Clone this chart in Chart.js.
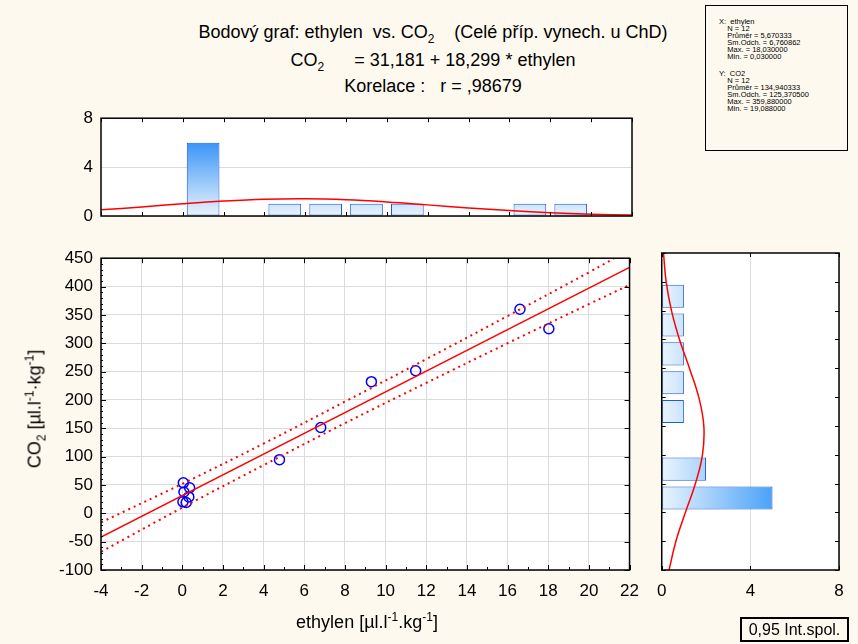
<!DOCTYPE html>
<html>
<head>
<meta charset="utf-8">
<title>Bodový graf: ethylen vs. CO2</title>
<script src="https://cdn.jsdelivr.net/npm/chart.js@4.4.0/dist/chart.umd.min.js"></script>
<style>
  html, body { margin: 0; padding: 0; }
  body {
    width: 858px; height: 644px; position: relative; overflow: hidden;
    background: #fdf9ee; color: #000;
    font-family: "Liberation Sans", Arial, sans-serif;
  }
  canvas { position: absolute; }
  .txt { position: absolute; white-space: pre; font-size: 18px; line-height: 20px; transform: translateX(-50%); }
  .txt sub, .txt sup { font-size: 12px; line-height: 0; }
  #stats {
    position: absolute; left: 705px; top: 5px; width: 143px; height: 146px;
    border: 1px solid #000; box-sizing: border-box;
  }
  .block {
    position: absolute; left: 13px; white-space: pre;
    font-size: 7.5px; line-height: 7px;
  }
  #ytitle {
    position: absolute; left: 35px; top: 409px; white-space: pre; font-size: 18px;
    transform: translate(-50%, -50%) rotate(-90deg);
  }
  #ytitle sub, #ytitle sup { font-size: 12px; line-height: 0; }
  #ciBox {
    position: absolute; left: 740px; top: 617px; width: 109px; height: 25px;
    border: 2px solid #000; box-sizing: border-box;
    font-size: 16px; line-height: 21px; text-align: center;
  }
</style>
</head>
<body>

<div class="txt" style="left:433px; top:22px">Bodový graf: ethylen  vs. CO<sub>2</sub>    (Celé příp. vynech. u ChD)</div>
<div class="txt" style="left:433px; top:50px">CO<sub>2</sub>      = 31,181 + 18,299 * ethylen</div>
<div class="txt" style="left:433px; top:76px">Korelace :   r = ,98679</div>

<div id="stats">
<div class="block" style="top:12px">X:  ethylen
    N = 12
    Průměr = 5,670333
    Sm.Odch. = 6,760862
    Max. = 18,030000
    Min. = 0,030000</div>
<div class="block" style="top:64px">Y:  CO2
    N = 12
    Průměr = 134,940333
    Sm.Odch. = 125,370500
    Max. = 359,880000
    Min. = 19,088000</div>
</div>

<canvas id="topHist" width="650" height="135" style="left:0; top:100px"></canvas>
<canvas id="main" width="650" height="404" style="left:0; top:240px"></canvas>
<canvas id="sideHist" width="212" height="404" style="left:646px; top:240px"></canvas>

<div class="txt" style="left:367px; top:612px">ethylen [µl.l<sup>-1</sup>.kg<sup>-1</sup>]</div>
<div id="ytitle">CO<sub>2</sub> [µl.l<sup>-1</sup>·kg<sup>-1</sup>]</div>
<div id="ciBox">0,95 Int.spol.</div>

<script>
// measured pairs
const ethylen = [0.05, 0.36, 0.08, 0.32, 0.03, 0.19, 4.78, 6.81, 9.30, 11.48, 16.61, 18.03];
const co2     = [53.8, 45.1, 37.6, 28.9, 20.2, 19.088, 94.6, 151.4, 232.2, 251.4, 359.88, 325.6];

// fitted line CO2 = a + b * ethylen
const intercept = 31.181;
const slope = 18.299;

// 0.95 confidence band of the fit
const bandX     = [-4, 0, 4, 8, 12, 16, 20, 22];
const bandUpper = [-16, 52, 123, 197, 272, 348, 425, 465];
const bandLower = [-68, 10, 85, 159, 230, 300, 369, 403];

// ethylen histogram, bins of 2 from -4 to 22
const ethBins   = ['-4–-2', '-2–0', '0–2', '2–4', '4–6', '6–8', '8–10', '10–12', '12–14', '14–16', '16–18', '18–20', '20–22'];
const ethCounts = [0, 0, 6, 0, 1, 1, 1, 1, 0, 0, 1, 1, 0];
// normal curve over the ethylen histogram
const ethCurveX = [-4, -2, 0, 2, 4, 6, 8, 10, 12, 14, 16, 18, 20, 22];
const ethCurveY = [0.51, 0.74, 1.0, 1.22, 1.37, 1.41, 1.33, 1.15, 0.91, 0.66, 0.44, 0.27, 0.15, 0.08];

// CO2 histogram, bins of 50 from -100 to 450 (bottom to top)
const co2Bins   = ['-100–-50', '-50–0', '0–50', '50–100', '100–150', '150–200', '200–250', '250–300', '300–350', '350–400', '400–450'];
const co2Counts = [0, 0, 5, 2, 0, 1, 1, 1, 1, 1, 0];
// normal curve beside the CO2 histogram
const co2CurveY = [-100, -50, 0, 50, 100, 150, 200, 250, 300, 350, 400, 450];
const co2CurveX = [0.33, 0.64, 1.07, 1.52, 1.84, 1.9, 1.67, 1.25, 0.8, 0.44, 0.2, 0.08];

const FONT = { family: '"Liberation Sans", Arial, sans-serif', size: 17 };
const GRID = '#dcdcdc';
const BAR_EDGE = '#1f5bd6';

function range(a, b, s) {
  const out = [];
  for (let v = a; v <= b + 1e-9; v += s) out.push(v);
  return out;
}

// black frame round the plot area plus short tick marks pointing inwards
const edgeTicks = {
  id: 'edgeTicks',
  afterDatasetsDraw(chart, args, opts) {
    const { ctx, chartArea: a } = chart;
    ctx.save();
    ctx.strokeStyle = '#000';
    ctx.lineWidth = 1;
    (opts.marks || []).forEach(m => {
      const sc = chart.scales[m.scale];
      m.values.forEach(v => {
        const p = Math.round(sc.getPixelForValue(v)) + 0.5;
        ctx.beginPath();
        m.sides.forEach(side => {
          if (side === 'bottom') { ctx.moveTo(p, a.bottom); ctx.lineTo(p, a.bottom - m.len); }
          if (side === 'top')    { ctx.moveTo(p, a.top);    ctx.lineTo(p, a.top + m.len); }
          if (side === 'left')   { ctx.moveTo(a.left, p);   ctx.lineTo(a.left + m.len, p); }
          if (side === 'right')  { ctx.moveTo(a.right, p);  ctx.lineTo(a.right - m.len, p); }
        });
        ctx.stroke();
      });
    });
    ctx.lineWidth = 1.5;
    ctx.strokeRect(a.left, a.top, a.right - a.left, a.bottom - a.top);
    ctx.restore();
  }
};

// white plot background
const plotBg = {
  id: 'plotBg',
  beforeDraw(chart) {
    const { ctx, chartArea: a } = chart;
    ctx.save();
    ctx.fillStyle = '#fff';
    ctx.fillRect(a.left, a.top, a.right - a.left, a.bottom - a.top);
    ctx.restore();
  }
};

function fixSize(w, h) {
  return s => { if (w != null) s.width = w; if (h != null) s.height = h; };
}

// ---------- scatter plot with the fit ----------
const points = ethylen.map((x, i) => ({ x, y: co2[i] }));
const fitLine = [-4, 22].map(x => ({ x, y: intercept + slope * x }));
const upper = bandX.map((x, i) => ({ x, y: bandUpper[i] }));
const lower = bandX.map((x, i) => ({ x, y: bandLower[i] }));

const dotted = {
  type: 'line', borderColor: '#ff0000', borderWidth: 2, borderDash: [2, 4],
  pointRadius: 0, tension: 0.4, fill: false
};

new Chart(document.getElementById('main'), {
  type: 'scatter',
  data: {
    datasets: [
      Object.assign({ data: upper }, dotted),
      Object.assign({ data: lower }, dotted),
      { type: 'line', data: fitLine, borderColor: '#ff0000', borderWidth: 1.5, pointRadius: 0, fill: false },
      {
        data: points, pointRadius: 5, pointBorderWidth: 1.5,
        pointBorderColor: '#0000ff', pointBackgroundColor: 'rgba(0,0,0,0)'
      }
    ]
  },
  options: {
    responsive: false, animation: false,
    layout: { padding: { top: 13, right: 18, left: 0, bottom: 0 } },
    plugins: {
      legend: { display: false }, tooltip: { enabled: false },
      edgeTicks: {
        marks: [
          { scale: 'x', values: range(-4, 22, 1), sides: ['bottom'], len: 3 },
          { scale: 'x', values: range(-4, 22, 2), sides: ['bottom', 'top'], len: 5 },
          { scale: 'y', values: range(-100, 450, 10), sides: ['left'], len: 2 },
          { scale: 'y', values: range(-100, 450, 50), sides: ['left', 'right'], len: 5 }
        ]
      }
    },
    scales: {
      x: {
        type: 'linear', min: -4, max: 22, afterFit: fixSize(null, 74),
        ticks: { stepSize: 2, font: FONT, color: '#000', padding: 11, autoSkip: false, maxRotation: 0 },
        grid: { color: GRID, drawTicks: false }, border: { display: false }
      },
      y: {
        type: 'linear', min: -100, max: 450, afterFit: fixSize(101, null),
        ticks: { stepSize: 50, font: FONT, color: '#000', padding: 8, autoSkip: false },
        grid: { color: GRID, drawTicks: false }, border: { display: false }
      }
    }
  },
  plugins: [plotBg, edgeTicks]
});

// ---------- ethylen histogram above ----------
function vertGradient(c) {
  const chart = c.chart;
  if (!chart.chartArea) return '#cfe5fc';
  const ys = chart.scales.y;
  const g = chart.ctx.createLinearGradient(0, ys.getPixelForValue(0), 0, ys.getPixelForValue(6));
  g.addColorStop(0, '#eaf4fe');
  g.addColorStop(1, '#3a95f6');
  return g;
}

new Chart(document.getElementById('topHist'), {
  type: 'bar',
  data: {
    labels: ethBins,
    datasets: [
      {
        type: 'line', xAxisID: 'xc', yAxisID: 'y',
        data: ethCurveX.map((x, i) => ({ x, y: ethCurveY[i] })),
        borderColor: '#ff0000', borderWidth: 1.5, pointRadius: 0, tension: 0.4
      },
      {
        data: ethCounts, xAxisID: 'x', yAxisID: 'y', grouped: false,
        backgroundColor: vertGradient, borderColor: BAR_EDGE, borderWidth: 1,
        borderSkipped: false, barPercentage: 0.8, categoryPercentage: 1
      }
    ]
  },
  options: {
    responsive: false, animation: false,
    layout: { padding: { top: 13, right: 18, left: 0, bottom: 19 } },
    plugins: {
      legend: { display: false }, tooltip: { enabled: false },
      edgeTicks: {
        marks: [{ scale: 'xc', values: range(-4, 22, 2), sides: ['bottom', 'top'], len: 4 }]
      }
    },
    scales: {
      x: { type: 'category', display: false, offset: true },
      xc: { type: 'linear', axis: 'x', display: false, offset: false, min: -4, max: 22 },
      y: {
        min: 0, max: 8, afterFit: fixSize(101, null),
        ticks: { stepSize: 4, font: FONT, color: '#000', padding: 8 },
        grid: { color: GRID, drawTicks: false }, border: { display: false }
      }
    }
  },
  plugins: [plotBg, edgeTicks]
});

// ---------- CO2 histogram on the right ----------
function horizGradient(c) {
  const chart = c.chart;
  if (!chart.chartArea) return '#cfe5fc';
  const xs = chart.scales.x;
  const g = chart.ctx.createLinearGradient(xs.getPixelForValue(0), 0, xs.getPixelForValue(5), 0);
  g.addColorStop(0, '#eaf4fe');
  g.addColorStop(1, '#4aa2f8');
  return g;
}

new Chart(document.getElementById('sideHist'), {
  type: 'bar',
  data: {
    labels: co2Bins,
    datasets: [
      {
        type: 'line', xAxisID: 'x', yAxisID: 'yc',
        data: co2CurveY.map((y, i) => ({ x: co2CurveX[i], y })),
        borderColor: '#ff0000', borderWidth: 1.5, pointRadius: 0, tension: 0.4
      },
      {
        data: co2Counts, indexAxis: 'y', xAxisID: 'x', yAxisID: 'y', grouped: false,
        backgroundColor: horizGradient, borderColor: BAR_EDGE, borderWidth: 1,
        borderSkipped: false, barPercentage: 0.8, categoryPercentage: 1
      }
    ]
  },
  options: {
    responsive: false, animation: false,
    layout: { padding: { top: 13, right: 19, left: 8, bottom: 0 } },
    plugins: {
      legend: { display: false }, tooltip: { enabled: false },
      edgeTicks: {
        marks: [
          { scale: 'yc', values: range(-100, 450, 50), sides: ['left', 'right'], len: 4 },
          { scale: 'x', values: [0, 4, 8], sides: ['top', 'bottom'], len: 4 }
        ]
      }
    },
    scales: {
      x: {
        type: 'linear', min: 0, max: 8, offset: false, afterFit: fixSize(null, 74),
        ticks: { stepSize: 4, font: FONT, color: '#000', padding: 11, maxRotation: 0 },
        grid: { color: GRID, drawTicks: false, offset: false }, border: { display: false }
      },
      y: { type: 'category', display: false, reverse: true, offset: true },
      yc: { type: 'linear', axis: 'y', display: false, offset: false, min: -100, max: 450 }
    }
  },
  plugins: [plotBg, edgeTicks]
});
</script>
</body>
</html>
